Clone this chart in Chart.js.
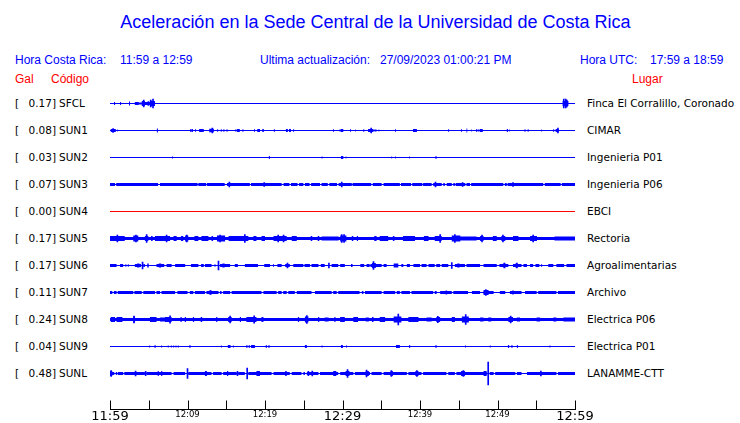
<!DOCTYPE html>
<html><head><meta charset="utf-8">
<script src="https://cdn.jsdelivr.net/npm/chart.js@4"></script>
<style>
body{margin:0;background:#fff;width:740px;height:423px;overflow:hidden;position:relative;}
.t{position:absolute;white-space:pre;line-height:1;}
#title{left:0;width:751px;text-align:center;top:13px;font-family:'Liberation Sans',Arial,sans-serif;font-size:18px;color:#0000ff;}
.h{font-family:'Liberation Sans',Arial,sans-serif;font-size:12px;color:#0000ff;top:54px;}
.r{font-family:'Liberation Sans',Arial,sans-serif;font-size:12px;color:#ff0000;top:73px;}
.lab{font-family:'DejaVu Sans',sans-serif;font-size:10.5px;color:#000;}
canvas{position:absolute;left:0;top:0;}
</style></head>
<body>
<div id="title" class="t">Aceleración en la Sede Central de la Universidad de Costa Rica</div>
<div class="t h" style="left:15px">Hora Costa Rica:</div>
<div class="t h" style="left:120px">11:59 a 12:59</div>
<div class="t h" style="left:260px">Ultima actualización:</div>
<div class="t h" style="left:380px">27/09/2023 01:00:21 PM</div>
<div class="t h" style="left:580px">Hora UTC:</div>
<div class="t h" style="left:650px">17:59 a 18:59</div>
<div class="t r" style="left:15px">Gal</div>
<div class="t r" style="left:51px">Código</div>
<div class="t r" style="left:632px">Lugar</div>
<div id="labels"></div>
<canvas id="c" width="740" height="423"></canvas>
<script>
// ---------- data ----------
const codes  = ['SFCL','SUN1','SUN2','SUN3','SUN4','SUN5','SUN6','SUN7','SUN8','SUN9','SUNL'];
const galMax = ['0.17','0.08','0.03','0.07','0.00','0.17','0.17','0.11','0.24','0.04','0.48'];
const places = ['Finca El Corralillo, Coronado','CIMAR','Ingenieria P01','Ingenieria P06','EBCI','Rectoria','Agroalimentarias','Archivo','Electrica P06','Electrica P01','LANAMME-CTT'];
const tickMinutes = [0,10,20,30,40,50,60];
const tickLabels  = ['11:59','12:09','12:19','12:29','12:39','12:49','12:59'];
const bigTicks    = ['11:59','12:29','12:59'];

// envelope segments: [start minute, end minute, half amplitude]
const SFCL_band  = [];
const SFCL_burst = [[0.52,0.65,1.5],[1.3,1.43,1.5],[2.45,2.58,2],[3.2,3.7,1.5],[3.7,4.1,1],[4.1,4.5,2.5],[4.5,5.2,1.5],[5.2,5.35,3],[5.35,5.8,2.5],[58.4,59.15,2.5]];
const SFCL_spike = [[4.35,3.5],[4.95,2],[5.25,3.5],[5.55,4.5],[58.55,4.5],[58.8,4.5],[58.95,3.5]];

const SUN1_band  = [];
const SUN1_burst = [[0.1,0.75,1.5],[0.9,1.0,1],[6.05,6.18,2],[10.35,10.45,1.5],[10.5,10.7,1.5],[11.0,11.1,1.5],[11.5,12.1,1.5],[12.8,13.4,1.8],[13.85,13.95,1.5],[14.3,14.4,1.5],[14.65,14.75,1.5],[15.05,15.15,1.5],[16.2,16.3,1.5],[16.4,16.75,1.5],[17.1,17.2,1.5],[18.6,18.7,1.5],[19.0,19.35,1.5],[19.65,19.85,1.5],[21.15,21.25,1.5],[22.7,22.95,1.5],[23.1,23.35,1.5],[23.65,23.75,1.5],[28.8,28.9,1.5],[29.6,29.7,1],[29.75,30.1,1.5],[31.0,31.1,1.5],[31.65,31.75,1],[32.7,32.8,1.5],[33.3,34.0,1.5],[34.1,34.4,1],[34.65,34.75,1],[36.8,36.9,1.5],[39.1,39.6,1.5],[43.65,43.75,1.5],[45.3,45.4,1.5],[46.0,46.1,2],[46.6,46.7,1],[47.25,47.35,1.5],[47.45,47.55,1.5],[47.7,48.1,1.5],[51.2,51.35,1.5],[51.5,51.6,1],[53.5,53.6,1.5],[53.9,54.0,1.5],[55.65,55.75,1],[57.2,57.3,1.5],[57.5,57.9,1.5]];
const SUN1_spike = [[13.2,2.5],[33.7,2.5],[57.8,2.5],[0.4,1.8]];

const SUN2_band  = [];
const SUN2_burst = [[8.0,8.13,1],[20.5,20.63,1.5],[27.3,27.43,1],[29.8,30.1,1.5],[30.4,30.5,1],[36.3,36.4,1],[36.8,36.9,1],[38.6,38.7,1],[42.0,42.13,1.5]];
const SUN2_spike = [];

const SUN3_band  = [[0,0.65,1.5],[0.8,6.2,1.5],[6.45,11.3,1.5],[11.4,12.4,1.5],[12.5,14.8,1.5],[15.1,18.05,1.5],[18.2,22.15,1.5],[22.4,23.15,1.5],[23.35,24.2,1.5],[24.4,24.95,1.5],[25.15,25.75,1.5],[25.95,27.1,1.5],[27.3,28.1,1.5],[28.3,29.3,1.5],[29.5,31.2,1.5],[31.3,33.7,1.5],[33.9,35.05,1.5],[35.3,37.4,1.5],[37.55,38.85,1.5],[39.0,40.3,1.5],[40.4,41.5,1.5],[41.7,42.8,1.5],[43.0,43.2,1.5],[43.45,44.1,1.5],[44.3,44.5,1.5],[44.6,45.85,1.5],[46.0,46.45,1.5],[46.6,50.75,1.5],[50.95,51.2,1.5],[51.3,55.9,1.5],[56.1,58.15,1.5],[58.3,60,1.5]];
const SUN3_burst = [];
const SUN3_spike = [[15.4,2.5],[19.9,2],[29.9,2.5],[42.0,2.5],[45.5,2],[52,2]];

const SUN4_band  = [];
const SUN4_burst = [];
const SUN4_spike = [];

const SUN5_band  = [[0,60,1.5]];
const SUN5_burst = [[0,1.9,2.5],[3.0,3.65,3],[4.5,4.95,2.5],[5.3,5.5,2.5],[5.8,6.0,2.5],[6.0,7.75,2.5],[8.2,8.6,2.5],[9.15,9.45,2.5],[9.7,10.1,3],[10.9,11.4,2.5],[11.8,12.7,2.5],[13.1,13.3,2.5],[13.8,14.85,3],[15.3,17.85,2.5],[18.5,18.9,2.5],[19.55,20.0,2.5],[21.1,22.8,2.5],[23.45,24.1,2.5],[25.9,26.1,2.5],[26.8,27.0,2.5],[27.3,29.5,2],[29.7,30.5,3],[31.2,31.4,2.5],[31.85,32.0,2.5],[34.1,34.4,2.5],[34.8,35.9,2.5],[36.5,36.7,2.5],[37.8,39.35,2.5],[40.5,41.1,2.5],[41.9,42.8,2.5],[44.1,45.2,3],[45.2,47.3,2],[47.75,48.2,2.5],[49.4,49.9,2.5],[50.5,51.0,2.5],[52.0,52.7,2.5],[54.2,55.1,2.5],[57.35,60,2]];
const SUN5_spike = [[0.95,3.5],[3.35,3.5],[4.73,4],[7.3,3.5],[9.9,3.5],[14.2,3.5],[17.4,4],[21.7,3.5],[22.4,3.5],[29.9,4],[30.2,4],[42.6,4],[44.5,4],[48.0,3.5],[50.7,3.5],[54.6,3.5]];

const SUN6_band  = [[0,0.85,1.5],[1.3,1.7,1.5],[2.0,2.1,1.5],[2.3,2.4,1.5],[3.2,4.0,1.5],[4.3,4.5,1.5],[4.8,5.0,2],[6.0,7.0,1.5],[7.3,7.95,1.5],[8.4,9.7,1.5],[10.45,11.4,1.5],[11.75,12.1,1.5],[12.25,13.1,1.5],[13.5,13.6,1.5],[14.2,15.5,1.5],[16.1,16.5,1.5],[17.4,19.1,1.5],[19.9,20.65,1.5],[21.05,21.15,1.5],[21.6,22.15,1.5],[22.6,23.2,1.5],[23.65,24.95,1.5],[25.1,25.8,1.5],[26.0,26.9,1.5],[27.2,27.7,1.5],[28.6,29.45,1.5],[29.7,30.3,1.5],[31.1,31.3,1.5],[32.3,32.8,1.5],[33.1,33.5,1.5],[33.6,35.05,1.5],[35.3,35.7,1.5],[36.6,37.2,2],[37.6,37.85,1.5],[38.3,38.7,1.5],[39.15,40.0,1.5],[40.2,40.85,1.5],[41.1,41.9,1.5],[42.1,42.6,1.5],[42.8,43.65,1.5],[44.5,45.8,1.5],[46.0,47.75,1.5],[48.2,49.9,1.5],[50.25,51.4,1.5],[52.0,53.1,1.5],[53.35,53.8,1.5],[54.2,54.6,1.5],[54.9,55.4,1.5],[55.65,55.75,1.5],[56.55,57.2,1.5],[57.6,58.6,1.5],[58.9,60,1.5]];
const SUN6_burst = [[3.5,3.8,2],[6.3,6.6,2],[14.5,14.8,2],[33.8,34.3,2.5],[44.8,45.1,2],[50.7,51.0,2],[52.3,52.6,2]];
const SUN6_spike = [[4.2,3.3],[14.0,4.3],[22.9,2.5],[28.25,2.5],[34.0,4],[44.1,2.8],[50.9,2.5],[52.5,2.5]];

const SUN7_band  = [[0,0.3,1.5],[0.5,0.85,1.5],[1.0,3.0,1.5],[3.15,4.1,1.5],[4.3,5.8,1.5],[6.0,6.45,1.5],[6.65,8.4,1.5],[8.7,10.0,1.5],[10.3,10.75,1.5],[10.95,12.25,1.5],[12.45,14.0,1.5],[14.2,14.4,1.5],[14.6,15.5,1.5],[15.7,19.55,1.5],[19.8,21.5,1.5],[21.7,22.15,1.5],[22.35,22.8,1.5],[23.0,23.85,1.5],[24.1,26.0,1.5],[26.45,28.6,1.5],[28.8,29.25,1.5],[29.45,32.2,1.5],[32.5,32.7,1.5],[32.9,35.05,1.5],[35.3,36.8,1.5],[37.0,37.4,1.5],[37.6,38.7,1.5],[38.9,41.7,1.5],[41.9,42.15,1.5],[42.6,44.1,1.5],[44.3,46.2,1.5],[46.7,47.75,1.5],[48.2,49.5,1.5],[50.3,51.0,1.5],[51.6,53.1,1.5],[53.55,55.05,1.5],[55.25,57.6,1.5],[57.8,60,1.5]];
const SUN7_burst = [[12.8,13.0,2],[43.3,43.5,2],[48.2,48.85,2.5],[51.9,52.1,2]];
const SUN7_spike = [[48.5,3],[13.0,2]];

const SUN8_band  = [[0,60,1.5]];
const SUN8_burst = [[0.1,0.65,2.5],[0.85,1.6,2.5],[3.0,3.2,3],[5.15,6.0,2.5],[6.45,7.1,2],[7.1,7.95,2.5],[9.1,9.25,2.5],[9.65,9.8,2.5],[10.7,10.85,2.5],[11.7,11.9,2.5],[13.7,13.85,2.5],[15.25,15.7,2.5],[16.75,16.9,2.5],[17.6,18.9,2.5],[19.55,19.8,2.5],[24.25,24.4,2.5],[25.15,25.6,3],[26.85,27.0,2.5],[27.7,28.2,2],[28.95,29.1,2.5],[29.7,30.3,2.5],[31.4,32.0,2.5],[33.0,33.4,2],[33.8,34.0,2.5],[34.8,35.5,2.5],[36.6,37.6,3],[38.5,39.8,2.5],[40.85,41.5,2],[42.1,42.6,2.5],[44.1,44.5,2.5],[45.4,46.3,3],[47.75,48.2,2],[48.8,49.2,2],[51.4,52.0,2.5],[52.5,52.9,2],[55.05,55.5,2],[57.2,57.6,2],[58.5,60,2]];
const SUN8_spike = [[7.75,3.7],[18.6,3.7],[25.4,4],[37.2,5.5],[45.9,5],[51.7,3.5],[3.1,3.3],[15.5,3.3],[42.3,3.2]];

const SUN9_band  = [];
const SUN9_burst = [[5.05,5.18,1],[5.75,5.88,1.5],[6.6,6.73,1],[7.45,7.58,1],[7.85,7.98,1],[8.15,8.28,1],[8.45,8.58,1],[8.75,8.88,1],[10.25,10.38,1.5],[14.3,14.43,1],[15.2,15.55,1.5],[15.85,15.98,1],[17.6,17.73,1.5],[17.9,18.03,1.5],[18.2,18.7,1.5],[20.1,20.23,1.5],[20.45,20.58,1.5],[25.15,25.4,1.5],[27.3,27.43,1],[29.8,30.05,1.5],[30.45,30.58,1],[36.9,37.4,1.5],[38.6,38.73,1.5],[42.0,42.13,1.5],[45.8,45.93,1],[49.0,49.13,1],[51.35,51.5,1.5],[51.8,51.93,1.5],[52.5,52.63,1.5],[56.7,56.83,1]];
const SUN9_spike = [];

const SUNL_band  = [[0,0.55,1.5],[0.75,0.9,1.5],[1.0,1.7,1.5],[1.85,4.5,1.5],[4.7,7.95,1.5],[8.2,9.7,1.5],[10.1,13.1,1.5],[13.3,14.4,1.5],[14.6,16.35,1.5],[16.55,17.4,1.5],[17.85,20.85,1.5],[21.1,23.2,1.5],[23.45,24.7,1.5],[24.95,25.15,1.5],[25.4,26.9,1.5],[27.1,29.45,1.5],[29.7,31.4,1.5],[31.6,33.55,1.5],[33.75,35.05,1.5],[35.3,38.3,1.5],[38.5,40.2,1.5],[40.4,43.4,1.5],[43.65,44.5,1.5],[44.7,48.6,1.5],[49.0,49.5,1.5],[49.7,52.3,1.5],[52.5,53.1,1.5],[53.8,57.6,1.5],[57.8,60,1.5]];
const SUNL_burst = [[0,0.3,2.5],[4.5,4.7,2.5],[6.15,6.3,2.5],[6.6,6.75,2.5],[12.25,12.5,2.5],[15.1,15.25,2.5],[16.35,16.55,2.5],[18.9,19.35,2.5],[22.6,22.8,2.5],[25.5,25.7,2.5],[28.8,29.2,2.5],[30.4,30.9,2.5],[33.0,33.4,2.5],[36.2,36.5,2.5],[39.4,39.8,2.5],[45.3,45.8,2.5],[48.2,48.6,2.5]];
const SUNL_spike = [[10.0,5],[17.7,5.5],[30.65,4],[33.1,3.3],[36.3,3],[39.6,3],[45.6,3],[48.8,11.5],[0.15,2.8],[3.3,2.5],[26.1,2.5],[55.6,2.5]];

const bands  = [SFCL_band,SUN1_band,SUN2_band,SUN3_band,SUN4_band,SUN5_band,SUN6_band,SUN7_band,SUN8_band,SUN9_band,SUNL_band];
const bursts = [SFCL_burst,SUN1_burst,SUN2_burst,SUN3_burst,SUN4_burst,SUN5_burst,SUN6_burst,SUN7_burst,SUN8_burst,SUN9_burst,SUNL_burst];
const spikes = [SFCL_spike,SUN1_spike,SUN2_spike,SUN3_spike,SUN4_spike,SUN5_spike,SUN6_spike,SUN7_spike,SUN8_spike,SUN9_spike,SUNL_spike];
const lineColors = ['#0000ff','#0000ff','#0000ff','#0000ff','#ff0000','#0000ff','#0000ff','#0000ff','#0000ff','#0000ff','#0000ff'];

// ---------- layout ----------
const ROW = 27;          // trace spacing in y units (1 unit = 1 px)
const BLUE = '#0000ff';

// text labels
const lab = document.getElementById('labels');
codes.forEach((c, i) => {
  const top = 98 + ROW * i;
  lab.insertAdjacentHTML('beforeend',
    `<div class="t lab" style="left:15px;top:${top}px">[</div>` +
    `<div class="t lab" style="right:684px;top:${top}px;text-align:right">${galMax[i]}]</div>` +
    `<div class="t lab" style="left:59px;top:${top}px">${c}</div>` +
    `<div class="t lab" style="left:587px;top:${top}px">${places[i]}</div>`);
});

function layer(segs, k, sign) {
  const pts = [{x: 0, y: k}];
  segs.forEach(([s, e, a]) => { pts.push({x: s, y: k + sign * a}); pts.push({x: e, y: k}); });
  pts.push({x: 60, y: k});
  return pts;
}
function fillDs(pts, k) {
  return {type: 'line', data: pts, stepped: true, borderWidth: 0, borderColor: 'rgba(0,0,0,0)',
          backgroundColor: BLUE, pointRadius: 0, fill: {value: k}, tension: 0};
}

const datasets = [];
codes.forEach((c, i) => {
  const k = ROW * i;
  datasets.push({type: 'line', data: [{x: 0, y: k}, {x: 60, y: k}], borderColor: lineColors[i],
                 borderWidth: 1, pointRadius: 0, fill: false});
  [bands[i], bursts[i]].forEach(segs => {
    if (!segs.length) return;
    datasets.push(fillDs(layer(segs, k, -1), k));
    datasets.push(fillDs(layer(segs, k, 1), k));
  });
});
const spikeData = [];
spikes.forEach((arr, i) => arr.forEach(([m, a]) => spikeData.push({x: m, y: [ROW * i - a, ROW * i + a]})));
datasets.push({type: 'bar', data: spikeData, backgroundColor: BLUE, borderWidth: 0, barThickness: 1, grouped: false});

const tickMarks = {
  id: 'tickMarks',
  afterDraw(chart) {
    const s = chart.scales.x, ctx = chart.ctx;
    ctx.save();
    ctx.strokeStyle = '#000'; ctx.lineWidth = 1;
    ctx.beginPath();
    s.ticks.forEach(t => {
      const px = Math.round(s.getPixelForValue(t.value)) + 0.5;
      ctx.moveTo(px, s.top - 9); ctx.lineTo(px, s.top + 0.5);
    });
    ctx.stroke();
    ctx.restore();
  }
};

new Chart(document.getElementById('c'), {
  type: 'line',
  data: {datasets},
  options: {
    responsive: false, animation: false, devicePixelRatio: 1, events: [],
    layout: {padding: {left: 110, right: 165, top: 90, bottom: 0}},
    plugins: {legend: {display: false}, tooltip: {enabled: false}, title: {display: false}},
    scales: {
      x: {
        type: 'linear', min: 0, max: 60, offset: false,
        grid: {display: false, drawTicks: false, offset: false},
        border: {display: true, color: '#000', width: 1},
        afterFit: s => { s.height = 13.5; },
        ticks: {
          stepSize: 5, autoSkip: false, maxRotation: 0, minRotation: 0, padding: 1, color: '#000',
          font: ctx => {
            const idx = tickMinutes.indexOf(ctx.tick ? ctx.tick.value : -1);
            const lbl = idx >= 0 ? tickLabels[idx] : '';
            return {family: 'DejaVu Sans', size: bigTicks.includes(lbl) ? 13 : 8.5, lineHeight: 1};
          },
          callback: v => { const idx = tickMinutes.indexOf(v); return idx >= 0 ? tickLabels[idx] : ''; }
        }
      },
      y: {type: 'linear', min: -13.5, max: 306, reverse: true, display: false, beginAtZero: false}
    }
  },
  plugins: [tickMarks]
});
</script>
</body></html>
